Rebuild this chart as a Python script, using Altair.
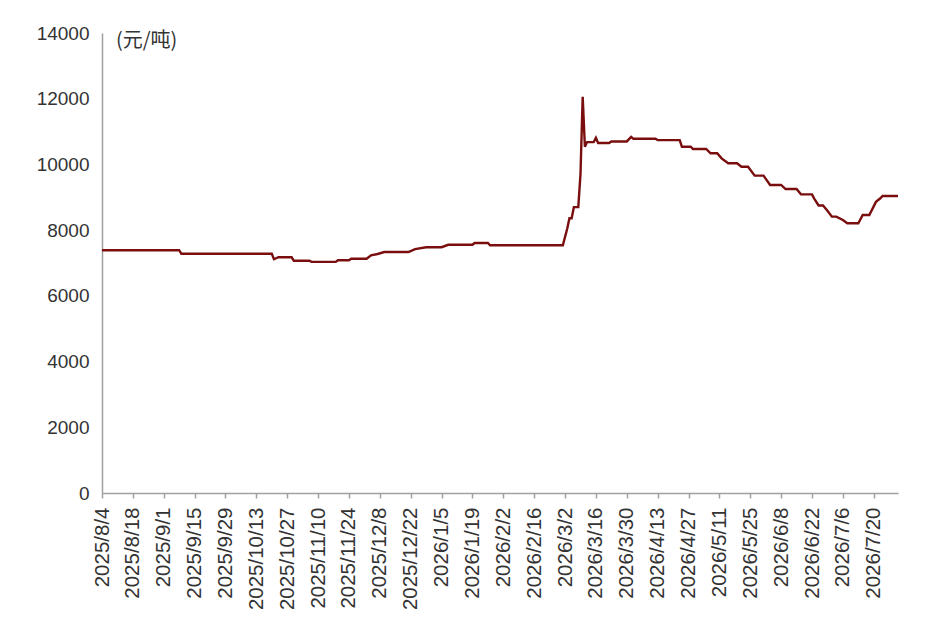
import altair as alt
import pandas as pd

# Price series (元/吨) — change points
dates = [
    "2025-08-04", "2025-09-08", "2025-09-09", "2025-10-20", "2025-10-21",
    "2025-10-23", "2025-10-29", "2025-10-30", "2025-11-06", "2025-11-07",
    "2025-11-18", "2025-11-19", "2025-11-24", "2025-11-25", "2025-12-02",
    "2025-12-04", "2025-12-07", "2025-12-10", "2025-12-21", "2025-12-24",
    "2025-12-29", "2026-01-05", "2026-01-08", "2026-01-19", "2026-01-20",
    "2026-01-26", "2026-01-27", "2026-03-01", "2026-03-03", "2026-03-04",
    "2026-03-05", "2026-03-06", "2026-03-08", "2026-03-09", "2026-03-10",
    "2026-03-11", "2026-03-12", "2026-03-15", "2026-03-16", "2026-03-17",
    "2026-03-22", "2026-03-23", "2026-03-30", "2026-04-01", "2026-04-02",
    "2026-04-12", "2026-04-13", "2026-04-23", "2026-04-24", "2026-04-28",
    "2026-04-29", "2026-05-05", "2026-05-07", "2026-05-10", "2026-05-12",
    "2026-05-15", "2026-05-19", "2026-05-21", "2026-05-24", "2026-05-27",
    "2026-05-31", "2026-06-03", "2026-06-08", "2026-06-10", "2026-06-15",
    "2026-06-17", "2026-06-22", "2026-06-23", "2026-06-25", "2026-06-27",
    "2026-06-29", "2026-07-01", "2026-07-03", "2026-07-06", "2026-07-08",
    "2026-07-13", "2026-07-15", "2026-07-18", "2026-07-21", "2026-07-23",
    "2026-07-24", "2026-07-31",
]
prices = [
    7390, 7390, 7280, 7280, 7115,
    7175, 7175, 7070, 7070, 7035,
    7035, 7085, 7085, 7130, 7130,
    7235, 7275, 7335, 7335, 7425,
    7480, 7480, 7555, 7555, 7610,
    7610, 7540, 7540, 8050, 8360,
    8360, 8700, 8700, 9700, 12060,
    10540, 10680, 10680, 10810, 10650,
    10650, 10700, 10700, 10840, 10780,
    10780, 10740, 10740, 10540, 10540,
    10470, 10470, 10340, 10340, 10185,
    10035, 10035, 9930, 9930, 9660,
    9660, 9375, 9375, 9250, 9250,
    9090, 9090, 8960, 8750, 8750,
    8590, 8410, 8410, 8310, 8210,
    8210, 8460, 8460, 8860, 8970,
    9040, 9040,
]

tick_labels = [
    "2025/8/4", "2025/8/18", "2025/9/1", "2025/9/15", "2025/9/29",
    "2025/10/13", "2025/10/27", "2025/11/10", "2025/11/24", "2025/12/8",
    "2025/12/22", "2026/1/5", "2026/1/19", "2026/2/2", "2026/2/16",
    "2026/3/2", "2026/3/16", "2026/3/30", "2026/4/13", "2026/4/27",
    "2026/5/11", "2026/5/25", "2026/6/8", "2026/6/22", "2026/7/6",
    "2026/7/20",
]
y_ticks = [0, 2000, 4000, 6000, 8000, 10000, 12000, 14000]
unit_label = "(元/吨)"


def to_ms(s):
    return int(pd.Timestamp(s.replace("/", "-"), tz="UTC").timestamp() * 1000)


tick_values = [to_ms(s) for s in tick_labels]
x_domain = [to_ms(dates[0]), to_ms(dates[-1])]

df = pd.DataFrame({"date": dates, "price": prices})

TEXT = "#333333"
AXIS = "#a0a0a0"

line = alt.Chart(df).mark_line(color="#7a0e0e", strokeWidth=2.4).encode(
    x=alt.X(
        "date:T",
        scale=alt.Scale(type="utc", domain=x_domain),
        axis=alt.Axis(
            values=tick_values,
            labelExpr="utcFormat(datum.value, '%Y/%-m/%-d')",
            labelAngle=270,
            labelAlign="right",
            labelBaseline="middle",
            title=None,
            grid=False,
            tickSize=5,
            labelPadding=9,
            labelFontSize=20.5,
            labelOverlap=False,
        ),
    ),
    y=alt.Y(
        "price:Q",
        scale=alt.Scale(domain=[0, 14000]),
        axis=alt.Axis(
            values=y_ticks,
            format="d",
            ticks=False,
            grid=False,
            title=None,
            labelPadding=13,
            labelFontSize=19,
        ),
    ),
)

unit = alt.Chart(pd.DataFrame({"t": [unit_label]})).mark_text(
    align="left", baseline="middle", fontSize=20, font="Noto Sans CJK SC", color=TEXT
).encode(text="t:N", x=alt.value(14), y=alt.value(8))

chart = (
    alt.layer(line, unit)
    .properties(
        width=796,
        height=460,
        autosize=alt.AutoSizeParams(type="none"),
        padding={"left": 94, "top": 25, "right": 20, "bottom": 126},
    )
    .configure_view(stroke=None)
    .configure_axis(
        labelFont="Liberation Sans",
        labelColor=TEXT,
        domainColor=AXIS,
        domainWidth=1.5,
        tickColor=AXIS,
        tickWidth=1.5,
    )
)

chart.save("out.html", embed_options={"renderer": "svg", "actions": False})
